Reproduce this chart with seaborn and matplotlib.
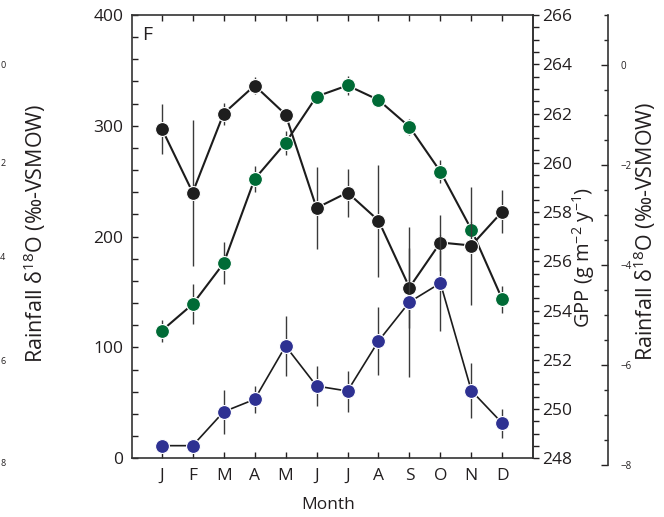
import numpy as np
import pandas as pd
import matplotlib
matplotlib.use("Agg")
import matplotlib.pyplot as plt
import seaborn as sns
from matplotlib.ticker import MultipleLocator

# ---------------- data ----------------
months = ["J", "F", "M", "A", "M", "J", "J", "A", "S", "O", "N", "D"]
rain = [11.4, 11.4, 42.0, 53.2, 101.3, 65.2, 60.7, 105.8, 141.0, 158.1, 61.0, 31.6]
rain_err = [2, 2, 20, 12, 27, 18, 18.5, 31, 68, 43, 25, 13]
gpp = [253.18, 254.26, 255.92, 259.34, 260.81, 262.69, 263.14, 262.55,
       261.46, 259.64, 257.29, 254.45]
gpp_err = [0.45, 0.8, 0.85, 0.52, 0.5, 0.2, 0.37, 0.2, 0.33, 0.47, 0.3, 0.53]
d18o = [-1.27, -2.55, -0.97, -0.41, -0.99, -2.86, -2.55, -3.11, -4.45,
        -3.55, -3.61, -2.93]
d18o_err = [0.5, 1.46, 0.22, 0.17, 0.1, 0.82, 0.48, 1.12, 0.8, 0.56, 1.18, 0.43]
left_ticks = [0, 100, 200, 300, 400]
gpp_ticks = [248, 250, 252, 254, 256, 258, 260, 262, 264, 266]
d18o_ticks = [-8, -6, -4, -2, 0]
edge_ticks = ["0", "2", "4", "6", "8"]   # visible fragments of the neighbouring panel's ticks

sns.set_style("ticks")
FONT = ["Open Sans", "DejaVu Sans"]
plt.rcParams["font.family"] = FONT
plt.rcParams["mathtext.fontset"] = "custom"
plt.rcParams["mathtext.rm"] = "Open Sans"
plt.rcParams["mathtext.it"] = "Open Sans:italic"
plt.rcParams["mathtext.bf"] = "Open Sans:bold"

idx = np.arange(len(months))
df = pd.DataFrame({"idx": idx, "month": months, "rain": rain, "rain_err": rain_err,
                   "gpp": gpp, "gpp_err": gpp_err, "d18o": d18o, "d18o_err": d18o_err})

W, H = 664, 517
fig = plt.figure(figsize=(W / 100, H / 100), dpi=100)

L, R, T, B = 131.7, 533.3, 15.0, 458.3
ax = fig.add_axes([L / W, (H - B) / H, (R - L) / W, (B - T) / H])
axg = ax.twinx()
B3 = 465.0
ax3 = fig.add_axes([L / W, (H - B3) / H, (R - L) / W, (B3 - T) / H])

XL = (-0.97, 12.0)
TXT = "#231f20"
LINE = "#1c1c1c"
ERR = "#3a3a3a"
GREEN = "#006b36"
BLUE = "#2e3192"
BLACKM = "#1e1e1e"
MS = 10.0

def draw(a, col, ecol, face, lw):
    a.errorbar(df["idx"], df[col], yerr=df[ecol], fmt="none", ecolor=ERR,
               elinewidth=1.0, capsize=0, zorder=1)
    sns.lineplot(data=df, x="idx", y=col, ax=a, color=LINE, lw=lw, marker="o",
                 markersize=MS, markerfacecolor=face, markeredgecolor="white",
                 markeredgewidth=0.8, zorder=3, clip_on=False)

draw(axg, "gpp", "gpp_err", GREEN, 1.5)
draw(ax3, "d18o", "d18o_err", BLACKM, 1.5)
draw(ax, "rain", "rain_err", BLUE, 1.2)

ax.set_zorder(3)
ax.patch.set_visible(False)
axg.set_zorder(1)
ax3.set_zorder(2)
ax3.patch.set_visible(False)

# main axis
ax.set_xlim(*XL)
ax.set_ylim(0, 400)
ax.set_xticks(idx)
ax.set_xticklabels(months)
ax.set_yticks(left_ticks)
ax.yaxis.set_minor_locator(MultipleLocator(20))
ax.tick_params(axis="x", direction="in", length=4, width=1, top=True, labeltop=False,
               labelsize=12.5, colors=TXT, pad=7)
ax.tick_params(axis="y", which="both", direction="in", length=4, width=1,
               labelsize=12.5, colors=TXT, pad=6)
ax.set_xlabel("")
ax.set_ylabel("")
for s in ["left", "bottom", "top", "right"]:
    ax.spines[s].set_visible(True)
    ax.spines[s].set_linewidth(1.2)
    ax.spines[s].set_color("#333333")

# GPP axis
axg.set_xlim(*XL)
axg.set_ylim(248, 266)
axg.set_yticks(gpp_ticks)
axg.yaxis.set_minor_locator(MultipleLocator(0.5))
axg.tick_params(axis="y", which="both", direction="out", length=4, width=1,
                labelsize=12.5, colors=TXT, pad=2)
axg.set_ylabel("")
axg.set_xlabel("")
for s in ["left", "bottom", "top"]:
    axg.spines[s].set_visible(False)
axg.spines["right"].set_linewidth(1.2)
axg.spines["right"].set_color("#333333")

# d18O axis
ax3.set_xlim(*XL)
ax3.set_ylim(-8, 1)
ax3.set_yticks(d18o_ticks)
ax3.yaxis.set_minor_locator(MultipleLocator(0.5))
ax3.yaxis.tick_right()
ax3.tick_params(axis="y", which="major", direction="in", length=5, width=1,
                labelsize=7, colors=TXT, pad=9)
ax3.tick_params(axis="y", which="minor", direction="in", length=3, width=1)
ax3.set_xticks([])
ax3.set_xlabel("")
ax3.set_ylabel("")
for s in ["left", "bottom", "top"]:
    ax3.spines[s].set_visible(False)
ax3.spines["right"].set_position(("axes", (608.3 - L) / (R - L)))
ax3.spines["right"].set_linewidth(1.2)
ax3.spines["right"].set_color("#333333")

# labels
VS = 15.5
fig.text(328 / W, 1 - 505 / H, "Month", ha="center", va="center", fontsize=12.5, color=TXT)
fig.text(584 / W, 1 - 258 / H,
         "GPP (g m$^{\\mathregular{-2}}$ y$^{\\mathregular{-1}}$)",
         rotation=90, ha="center", va="center", fontsize=14.5, color=TXT)
d_label = "Rainfall \u03b4$^{\\mathregular{18}}$O (\u2030-VSMOW)"
fig.text(645 / W, 1 - 231 / H, d_label, rotation=90, ha="center", va="center",
         fontsize=VS, color=TXT)
# label and tick fragments of the neighbouring panel, cut by the left edge
fig.text(35 / W, 1 - 233 / H, d_label, rotation=90, ha="center", va="center",
         fontsize=VS, color=TXT)
for t, yp in zip(edge_ticks, [65, 163, 258, 362, 463]):
    fig.text(5.5 / W, 1 - yp / H, t, ha="right", va="center", fontsize=6.5, color=TXT)

ax.text(0.025, 0.975, "F", transform=ax.transAxes, ha="left", va="top",
        fontsize=14, color=TXT)

fig.savefig("out.png", dpi=100)
